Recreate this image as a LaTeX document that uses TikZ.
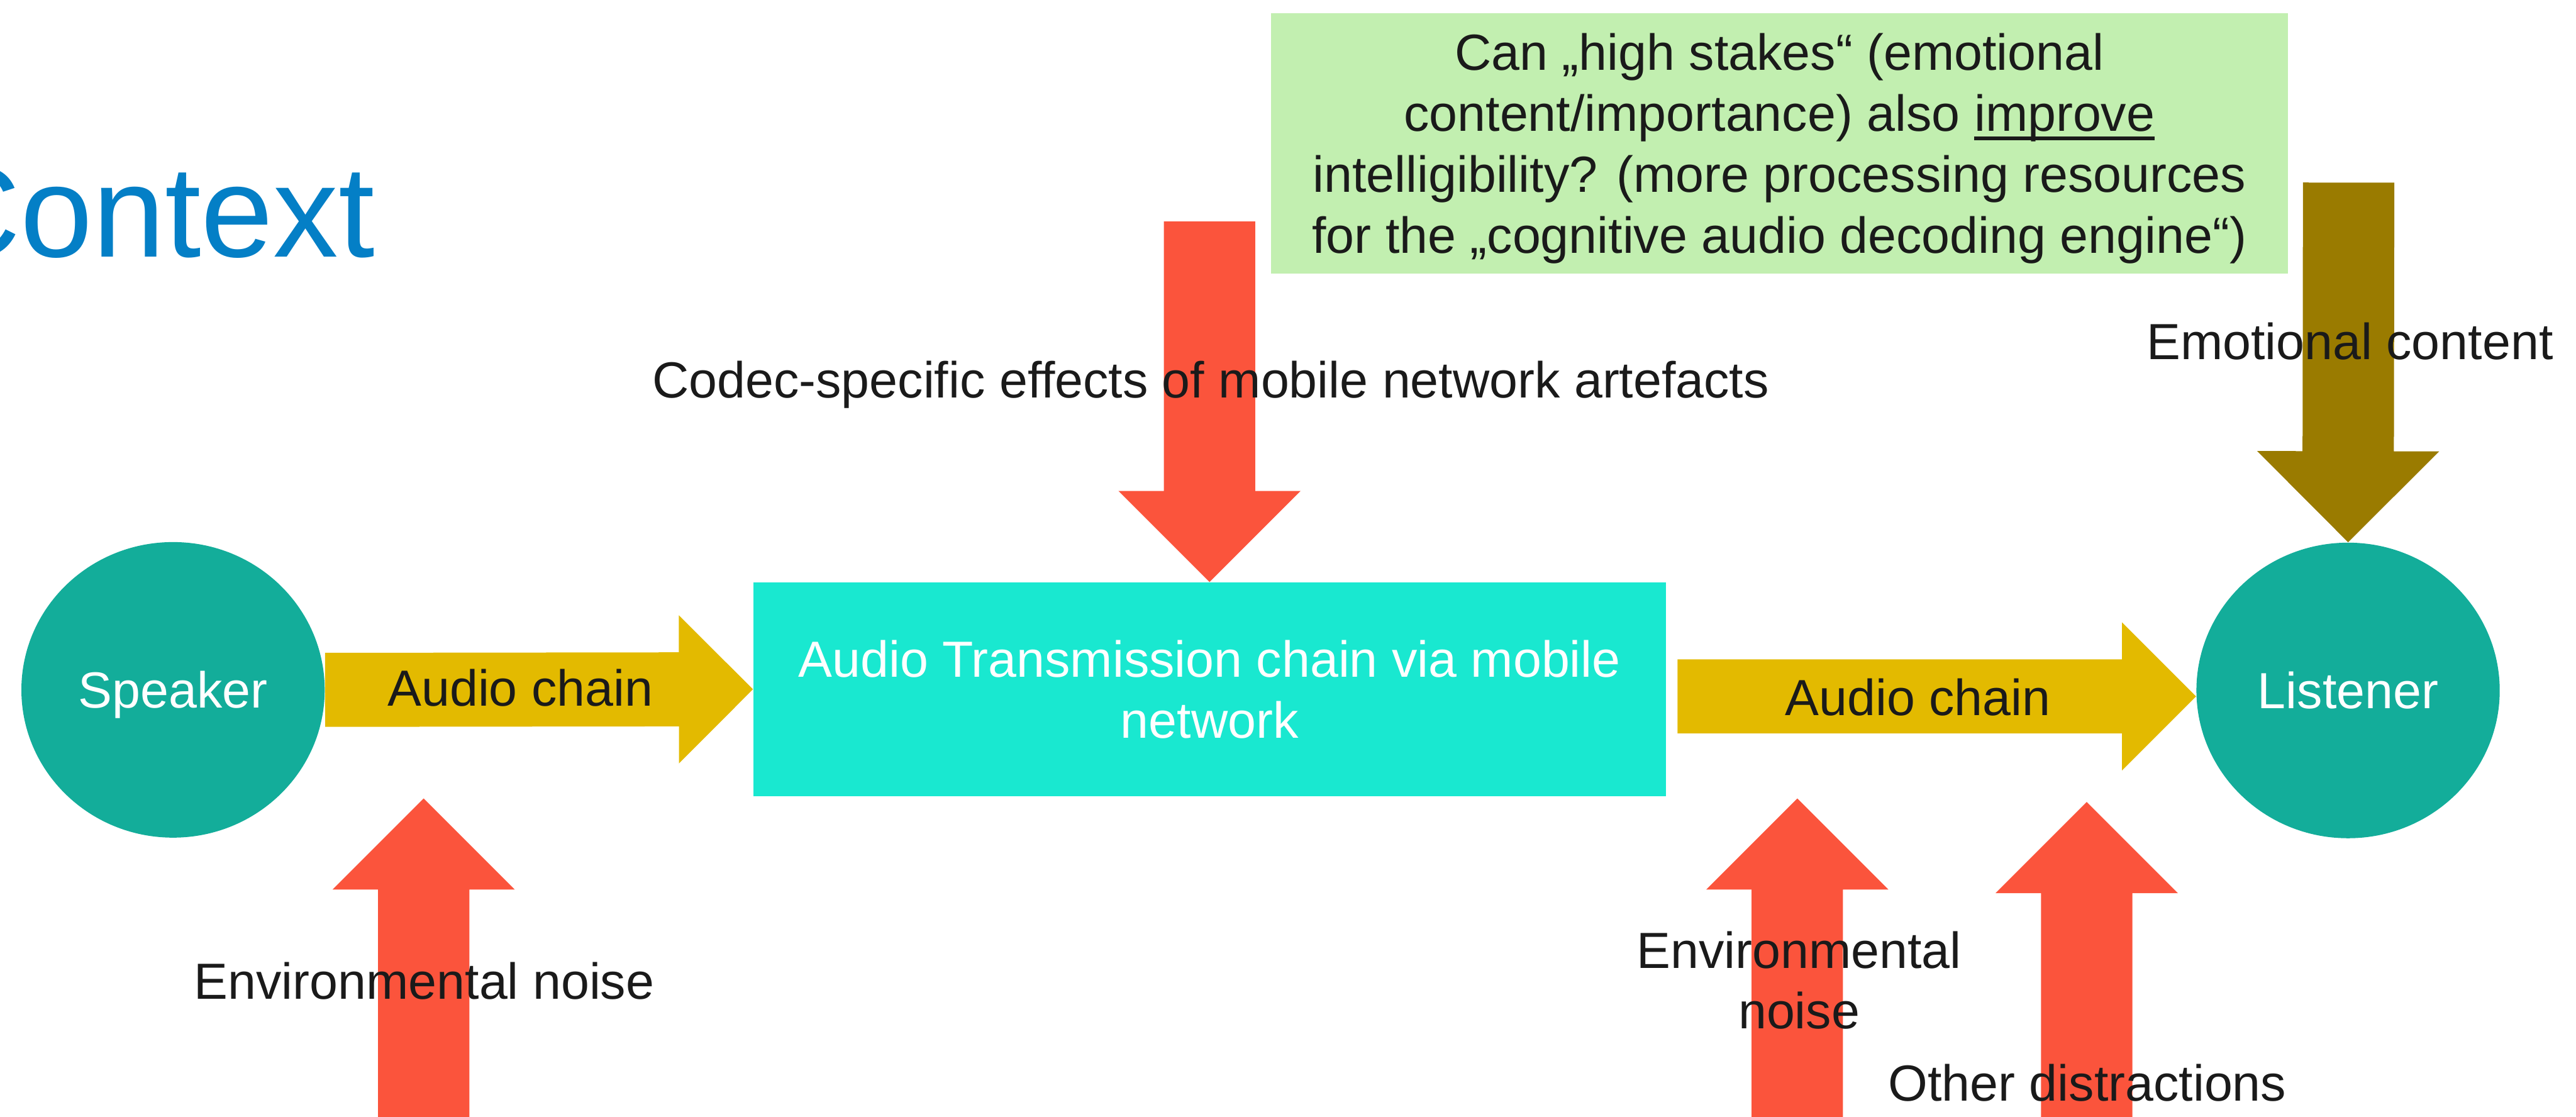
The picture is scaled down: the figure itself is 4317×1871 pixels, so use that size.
\documentclass[tikz,border=0pt]{standalone}
\usepackage{fontspec}
\setmainfont{Liberation Sans}
\usetikzlibrary{calc,shapes.geometric}

\definecolor{titelblau}{HTML}{047FC6}
\definecolor{tuerkis}{HTML}{13AD9A}
\definecolor{kanal}{HTML}{19E8D0}
\definecolor{kettengelb}{HTML}{E3BA00}
\definecolor{stoerrot}{HTML}{FB543C}
\definecolor{emobraun}{HTML}{9A7B00}
\definecolor{fragegruen}{HTML}{C2EFB0}
\definecolor{schrift}{HTML}{1A1A1A}

\newcommand{\groesse}{\fontsize{24.2pt}{29pt}\selectfont}
\newcommand{\unter}[1]{\setbox0\hbox{#1}\rlap{\rule[-0.176em]{\wd0}{0.07em}}\box0}
% Blockpfeil: Stil, Start, Spitze, halbe Schaftbreite, halbe Kopfbreite (= Kopflaenge)
\newcommand{\blockpfeil}[5]{%
  \coordinate (kopf) at ($(#3)!#5!(#2)$);
  \fill[#1] ($(#2)!#4!90:(#3)$) -- ($(kopf)!#4!90:(#3)$) -- ($(kopf)!#5!90:(#3)$) -- (#3)
    -- ($(kopf)!#5!-90:(#3)$) -- ($(kopf)!#4!-90:(#3)$) -- ($(#2)!#4!-90:(#3)$) -- cycle;}

\tikzset{
  person/.style={ellipse, fill=tuerkis, text=white, minimum width=5.08cm, minimum height=4.95cm,
    inner sep=0pt, text height=0.61cm, text depth=0pt},
  kasten/.style={rectangle, inner sep=0pt, align=center, text depth=0pt},
  beschriftung/.style={text=schrift, inner sep=0pt, anchor=base, align=center},
  kette/.style={fill=kettengelb},
  stoer/.style={fill=stoerrot},
  emo/.style={fill=emobraun},
}

\begin{document}
\begin{tikzpicture}[x=0.01cm, y=-0.01cm, font=\groesse]
	\useasboundingbox (0,0) rectangle (4317,1871);
	\node[text=titelblau, font=\fontsize{62pt}{74pt}\selectfont, anchor=base west, inner sep=0pt] (titel) at (-124,430) {Context};%Titel
	\node[kasten, fill=fragegruen, text=schrift, minimum width=17.04cm, minimum height=4.36cm] (frage) at (2982,240)
		{Can „high stakes“ (emotional\\content/importance) also \unter{improve}\\intelligibility? (more processing resources\\for the „cognitive audio decoding engine“)};%Frage
	\node[person] (speaker) at (290,1156) {Speaker};%Sprecher
	\node[kasten, fill=kanal, text=white, minimum width=15.28cm, minimum height=3.58cm] (trans) at (2027,1155)
		{Audio Transmission chain via mobile\\network};%Uebertragung
	\node[person] (listener) at (3935,1157) {Listener};%Hoerer

	\coordinate (k2s) at ($(trans.east)+(19,12)$);%Kette rechts Anfang
	\coordinate (k2e) at ($(listener.west)+(0,10)$);%Kette rechts Spitze
	\coordinate (codecstart) at (2027,371);%Pfeil oben
	\coordinate (emostart) at (3936,306);%Pfeil Emotion
	\coordinate (rausch1) at (710,1900);
	\coordinate (rausch1spitze) at (710,1338);
	\coordinate (rausch2) at (3012,1900);
	\coordinate (rausch2spitze) at (3012,1338);
	\coordinate (ablenk) at (3497,1900);
	\coordinate (ablenkspitze) at (3497,1344);

	\blockpfeil{kette}{speaker.east}{trans.west}{0.62cm}{1.24cm}%Audio chain links
	\blockpfeil{kette}{k2s}{k2e}{0.62cm}{1.24cm}%Audio chain rechts
	\blockpfeil{stoer}{codecstart}{trans.north}{0.765cm}{1.525cm}%Codec
	\blockpfeil{stoer}{rausch1}{rausch1spitze}{0.765cm}{1.525cm}%Rauschen links
	\blockpfeil{stoer}{rausch2}{rausch2spitze}{0.765cm}{1.525cm}%Rauschen rechts
	\blockpfeil{stoer}{ablenk}{ablenkspitze}{0.765cm}{1.525cm}%Ablenkung
	\blockpfeil{emo}{emostart}{listener.north}{0.765cm}{1.525cm}%Emotion

	\node[beschriftung] (codec) at (2029,667) {Codec-specific effects of mobile network artefacts};
	\node[beschriftung] (emotext) at (3938,602) {Emotional content};
	\node[beschriftung] (chain1) at (872,1183) {Audio chain};
	\node[beschriftung] (chain2) at (3214,1199) {Audio chain};
	\node[beschriftung] (rauschtext1) at (711,1674) {Environmental noise};
	\node[beschriftung] (rauschtext2) at (3015,1724) {Environmental\\noise};
	\node[beschriftung] (ablenktext) at (3498,1845) {Other distractions};
\end{tikzpicture}
\end{document}
